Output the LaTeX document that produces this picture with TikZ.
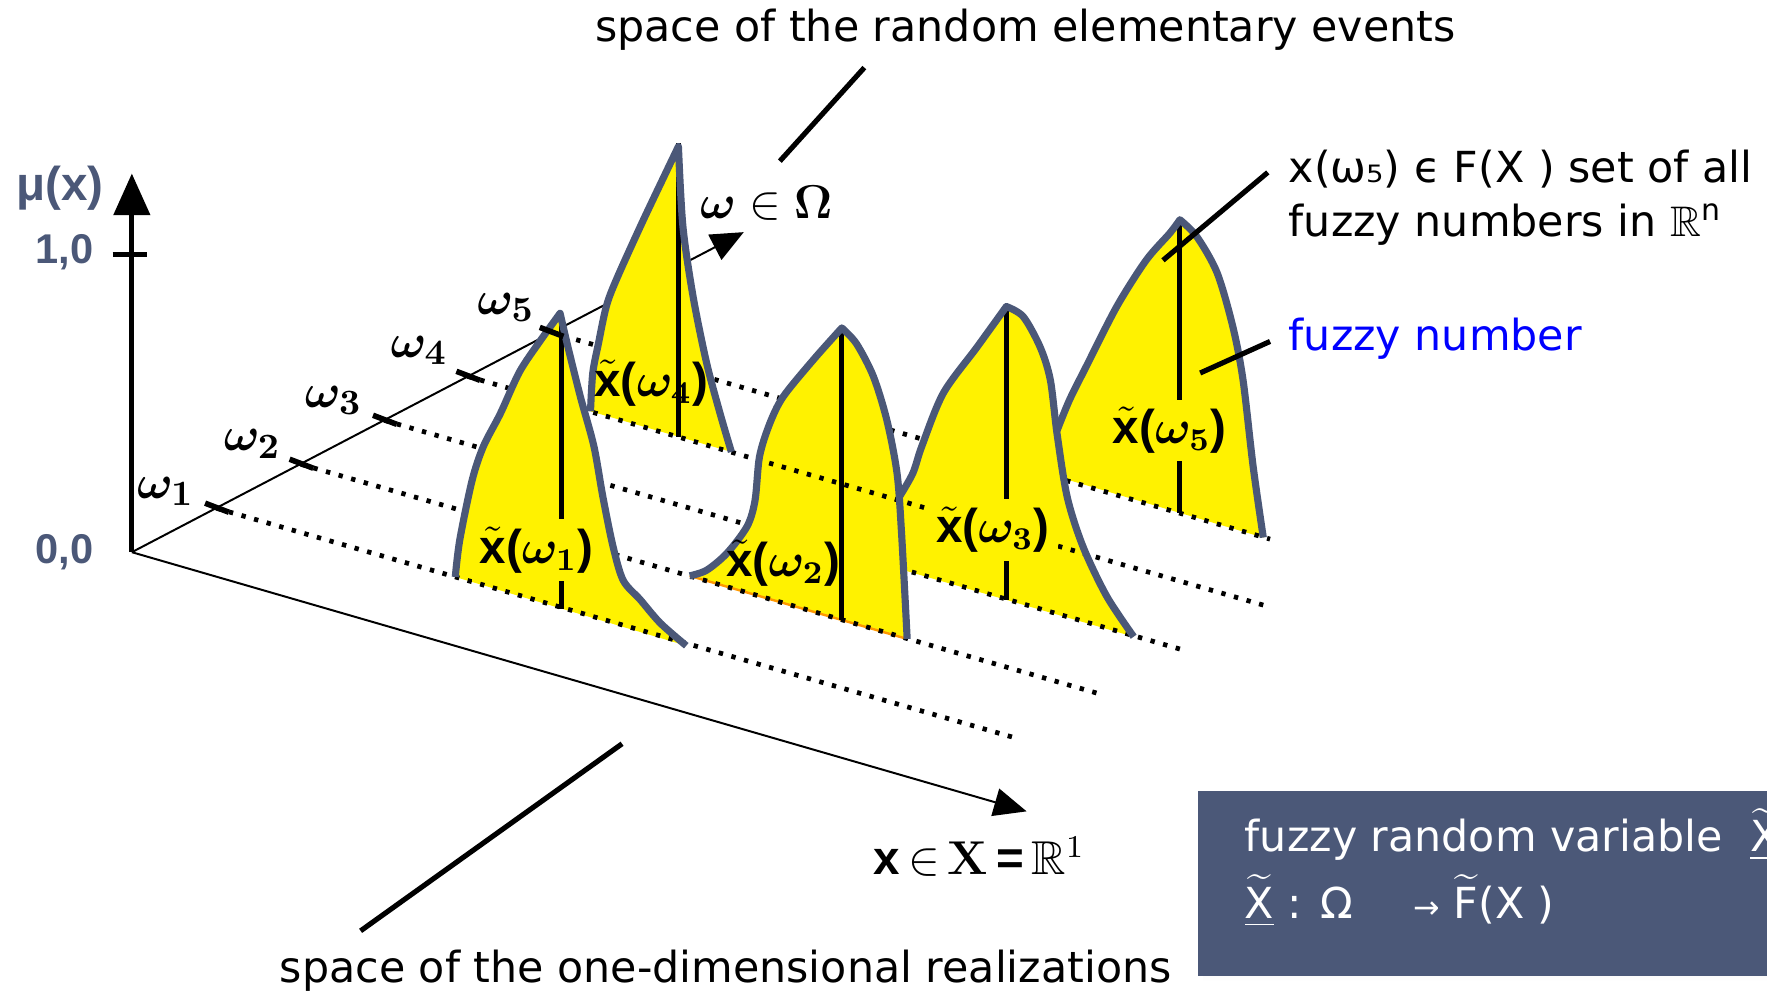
\documentclass[tikz,border=0pt]{standalone}
\usepackage{amsmath,amssymb}
\usepackage{fontspec}
\newfontfamily\lsans{Liberation Sans}
\newfontfamily\dvsans{DejaVu Sans}
\usetikzlibrary{calc,arrows.meta}
\definecolor{slate}{RGB}{75,88,120}
\definecolor{shade}{RGB}{128,128,128}
\definecolor{rimorange}{RGB}{255,153,0}

% outlines of the fuzzy numbers: left flank up to the peak, then down the right flank
\newcommand{\rimA}{plot[smooth, tension=0.5] coordinates {(4.04,3.71) (4.08,4.04) (4.19,4.57) (4.29,4.87) (4.44,5.16) (4.61,5.53) (4.79,5.80) (4.97,6.05)}
  -- plot[smooth, tension=0.5] coordinates {(4.97,6.05) (5.04,5.75) (5.15,5.31) (5.27,4.87) (5.35,4.42) (5.44,3.98) (5.53,3.68) (5.68,3.51) (5.86,3.30) (6.09,3.10)}}
\newcommand{\rimB}{plot[smooth, tension=0.5] coordinates {(6.12,3.72) (6.27,3.77) (6.45,3.92) (6.63,4.16) (6.70,4.39) (6.74,4.78) (6.83,5.07) (6.95,5.31) (7.22,5.64) (7.47,5.92)}
  -- plot[smooth, tension=0.5] coordinates {(7.47,5.92) (7.60,5.78) (7.75,5.49) (7.87,5.10) (7.96,4.63) (8.00,4.10) (8.05,3.16)}}
\newcommand{\rimC}{plot[smooth, tension=0.5] coordinates {(7.98,4.42) (8.10,4.63) (8.18,4.87) (8.37,5.34) (8.67,5.75) (8.93,6.11)}
  -- plot[smooth, tension=0.5] coordinates {(8.93,6.11) (9.08,6.02) (9.23,5.75) (9.32,5.46) (9.38,4.98) (9.47,4.42) (9.61,3.98) (9.82,3.54) (10.06,3.18)}}
\newcommand{\rimD}{plot[smooth, tension=0.5] coordinates {(5.24,5.18) (5.26,5.52) (5.31,5.78) (5.38,6.11) (5.47,6.35) (5.71,6.88) (6.02,7.53)}
  -- plot[smooth, tension=0.5] coordinates {(6.02,7.53) (6.06,6.82) (6.15,6.20) (6.27,5.61) (6.39,5.16) (6.49,4.82)}}
\newcommand{\rimE}{plot[smooth, tension=0.5] coordinates {(9.38,5.01) (9.49,5.28) (9.64,5.58) (9.91,6.11) (10.17,6.52) (10.38,6.76) (10.47,6.88)}
  -- plot[smooth, tension=0.5] coordinates {(10.47,6.88) (10.62,6.73) (10.80,6.41) (10.94,5.93) (11.03,5.46) (11.12,4.69) (11.21,4.06)}}

\begin{document}
\begin{tikzpicture}[
  fuzzy/.style={fill=yellow},
  rim/.style={draw=slate, line width=1.8pt, line join=round},
  dots/.style={line width=1.2pt, dash pattern=on 1.1pt off 2.2pt},
  core/.style={line width=1.3pt},
  leader/.style={line width=1.3pt},
  tick/.style={line width=1.4pt},
  thin axis/.style={line width=0.5pt, -{Triangle[length=2.9mm, width=2.5mm]}},
  omega/.style={font=\boldmath\fontsize{12.5}{14}\selectfont},
  fzlabel/.style={font=\lsans\bfseries\fontsize{12}{14}\selectfont, inner sep=2pt},
  note/.style={font=\dvsans\fontsize{10.8}{13.6}\selectfont, inner sep=0pt},
  scale label/.style={font=\lsans\bfseries\fontsize{10.5}{12}\selectfont, text=slate}
]
  \useasboundingbox (0,0) rectangle (15.68,8.83);

  \coordinate (O)     at (1.17,3.93);
  \coordinate (muTip) at (1.17,7.29);
  \coordinate (muOne) at (1.17,6.57);
  \coordinate (xTip)  at (9.11,1.63);
  \coordinate (wTip)  at (6.60,6.77);
  \coordinate (w1) at (1.92,4.32);
  \coordinate (w2) at (2.67,4.71);
  \coordinate (w3) at (3.41,5.10);
  \coordinate (w4) at (4.15,5.49);
  \coordinate (w5) at (4.89,5.88);

  % axes
  \draw[thin axis] (O) -- (xTip);
  \draw[thin axis] (O) -- (wTip);
  \draw[line width=1.2pt, -{Triangle[length=3.7mm, width=3.2mm]}] (O) -- (muTip);
  \draw[tick] ([xshift=-0.17cm]muOne) -- ([xshift=0.13cm]muOne);

  \node[scale label, font=\lsans\bfseries\fontsize{12}{14}\selectfont] (muLab) at (0.53,7.16) {μ(x)};
  \node[scale label] (oneLab)  at (0.57,6.59) {1,0};
  \node[scale label] (zeroLab) at (0.57,3.93) {0,0};

  % back to front, every fuzzy number hides the rows behind it
  \fill[fuzzy] \rimE -- (9.45,4.58) -- cycle;
  \draw[dots] (w5) -- ++(6.38,-1.834);
  \fill[fuzzy] \rimC -- (8.02,3.77) -- cycle;
  \draw[dots] (w3) -- ++(7.1,-2.041);
  \fill[fuzzy] \rimB -- cycle;
  \draw[rimorange, line width=0.6pt] (6.12,3.72) -- (8.05,3.16);
  \draw[dots] (w2) -- ++(7.1,-2.041);
  \fill[fuzzy] \rimD -- cycle;
  \draw[dots] (w4) -- ++(7.1,-2.041);
  \fill[fuzzy] \rimA -- cycle;
  \draw[dots] (w1) -- ++(7.1,-2.041);

  % cores
  \draw[core] (4.98,6.00) -- (4.98,3.43);
  \draw[core] (7.47,5.90) -- (7.47,3.33);
  \draw[core] (8.93,6.09) -- (8.93,3.51);
  \draw[core] (6.02,7.56) -- (6.02,4.95);
  \draw[core] (10.47,6.86) -- (10.47,4.28);

  \draw[rim] \rimE;
  \draw[rim] \rimC;
  \draw[rim] \rimB;
  \draw[rim] \rimD;
  \draw[rim] \rimA;

  \node[fzlabel, fill=yellow] (xt1) at (4.76,3.95)  {$\tilde{\text{x}}$({\boldmath$\omega_1$})};
  \node[fzlabel]              (xt2) at (6.95,3.83)  {$\tilde{\text{x}}$({\boldmath$\omega_2$})};
  \node[fzlabel, fill=yellow] (xt3) at (8.81,4.13)  {$\tilde{\text{x}}$({\boldmath$\omega_3$})};
  \node[fzlabel]              (xt4) at (5.78,5.43)  {$\tilde{\text{x}}$({\boldmath$\omega_4$})};
  \node[fzlabel, fill=yellow] (xt5) at (10.38,5.01) {$\tilde{\text{x}}$({\boldmath$\omega_5$})};

  % ticks on the omega axis
  \draw[tick] ($(w1)+(-0.10,0.045)$) -- ($(w1)+(0.11,-0.035)$);
  \draw[tick] ($(w2)+(-0.10,0.045)$) -- ($(w2)+(0.11,-0.035)$);
  \draw[tick] ($(w3)+(-0.10,0.045)$) -- ($(w3)+(0.11,-0.035)$);
  \draw[tick] ($(w4)+(-0.10,0.045)$) -- ($(w4)+(0.11,-0.035)$);
  \draw[tick] ($(w5)+(-0.10,0.045)$) -- ($(w5)+(0.11,-0.035)$);

  \node[omega] (lw1) at ($(w1)+(-0.45,0.15)$) {$\omega_1$};
  \node[omega] (lw2) at ($(w2)+(-0.43,0.18)$) {$\omega_2$};
  \node[omega] (lw3) at ($(w3)+(-0.45,0.18)$) {$\omega_3$};
  \node[omega] (lw4) at ($(w4)+(-0.43,0.23)$) {$\omega_4$};
  \node[omega] (lw5) at ($(w5)+(-0.40,0.22)$) {$\omega_5$};

  \node[font=\fontsize{12.5}{14}\selectfont] (wspace) at (6.80,7.03) {$\boldsymbol{\omega}\in\boldsymbol{\Omega}$};
  \node[font=\fontsize{12}{13}\selectfont] (xspace) at (8.69,1.23)
    {{\lsans\bfseries x}\,$\in$\,\textbf{X}\,{\lsans\bfseries =}\,$\mathbb{R}^{1}$};

  % annotations
  \node[note, anchor=base] (events) at (9.10,8.46) {space of the random elementary events};
  \node[note, anchor=base west] (allset) at (11.43,7.21) {x(ω₅) ϵ F(X ) set of all};
  \node[note, anchor=base west] (allsetB) at (11.43,6.73) {fuzzy numbers in $\mathbb{R}$\textsuperscript{n}};
  \node[note, anchor=base west, text=blue] (fznum) at (11.43,5.72) {fuzzy number};
  \node[note, anchor=base] (realiz) at (6.44,0.11) {space of the one-dimensional realizations};

  \coordinate (evA) at (7.67,8.23);  \coordinate (evB) at (6.92,7.40);
  \coordinate (fsA) at (11.25,7.30); \coordinate (fsB) at (10.32,6.52);
  \coordinate (fnA) at (11.27,5.80); \coordinate (fnB) at (10.65,5.52);
  \coordinate (reA) at (5.52,2.23);  \coordinate (reB) at (3.20,0.57);
  \draw[leader] (evA) -- (evB);
  \draw[leader] (fsA) -- (fsB);
  \draw[leader] (fnA) -- (fnB);
  \draw[leader] (reA) -- (reB);

  % definition panel
  \fill[shade] (10.68,0.12) rectangle (15.9,1.76);
  \fill[slate] (10.63,0.17) rectangle (15.9,1.81);
  \node[note, text=white, anchor=base west] (frv) at (11.04,1.27)
    {fuzzy random variable \ \underline{$\widetilde{\text{X}}$}};
  \node[note, text=white, anchor=base west] (frvmap) at (11.04,0.68)
    {\underline{$\widetilde{\text{X}}$} : Ω \hspace{1.1em}{\footnotesize →} $\widetilde{\text{F}}$(X )};
\end{tikzpicture}
\end{document}
